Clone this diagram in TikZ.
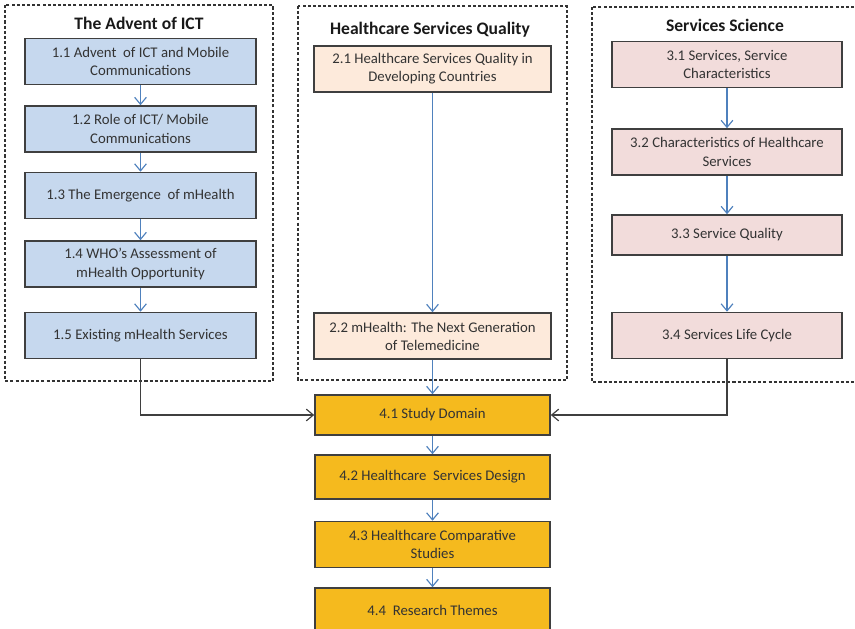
\documentclass[tikz,border=0pt]{standalone}
\usepackage{fontspec}
\setmainfont{Carlito}
\usetikzlibrary{arrows.meta}

\definecolor{ictblue}{HTML}{C6D8EE}
\definecolor{hsqpeach}{HTML}{FDEADB}
\definecolor{sspink}{HTML}{F2DCDB}
\definecolor{studyorange}{HTML}{F5BA1E}
\definecolor{flowblue}{HTML}{4F81BD}
\definecolor{edgegray}{HTML}{3F3F3F}

\begin{document}
\begin{tikzpicture}[>={Straight Barb[length=6pt,width=10pt]},
    topic/.style={draw=edgegray, line width=1.3pt, minimum height=1.38cm, align=center,
        font=\fontsize{12.6}{15.5}\selectfont, text=black!80},
    ictbox/.style={topic, fill=ictblue, minimum width=6.93cm},
    hsqbox/.style={topic, fill=hsqpeach, minimum width=7.11cm},
    ssbox/.style={topic, fill=sspink, minimum width=6.9cm},
    studybox/.style={topic, fill=studyorange, minimum width=7.05cm},
    frame/.style={draw=black!80, line width=1.1pt, dash pattern=on 2.6pt off 1.8pt},
    heading/.style={font=\bfseries\fontsize{15}{18}\selectfont, text=black!90},
    flow/.style={->, draw=flowblue, line width=1pt},
    link/.style={->, draw=edgegray, line width=1pt}]
    \useasboundingbox (0,0) rectangle (25.65,-18.87);

    \draw[frame] (0.15,-0.15) rectangle (8.19,-11.43);
    \draw[frame] (8.94,-0.18) rectangle (17.01,-11.40);
    \draw[frame] (17.76,-0.21) rectangle (25.75,-11.46);

    \node[heading] (t1) at (4.17,-0.69) {The Advent of ICT};
    \node[heading] (t2) at (12.90,-0.90) {Healthcare Services Quality};
    \node[heading] (t3) at (21.75,-0.75) {Services Science};

    \node[ictbox] (b11) at (4.215,-1.845) {1.1 Advent\ \ of ICT and Mobile\\ Communications};
    \node[ictbox] (b12) at (4.215,-3.87) {1.2 Role of ICT/ Mobile\\ Communications};
    \node[ictbox] (b13) at (4.215,-5.865) {1.3 The Emergence\ \ of mHealth};
    \node[ictbox] (b14) at (4.215,-7.92) {1.4 WHO’s Assessment of\\ mHealth Opportunity};
    \node[ictbox] (b15) at (4.215,-10.065) {1.5 Existing mHealth Services};

    \node[hsqbox] (b21) at (12.975,-2.07) {2.1 Healthcare Services Quality in\\ Developing Countries};
    \node[hsqbox] (b22) at (12.975,-10.08) {2.2 mHealth: The Next Generation\\ of Telemedicine};

    \node[ssbox] (b31) at (21.81,-1.935) {3.1 Services, Service\\ Characteristics};
    \node[ssbox] (b32) at (21.81,-4.56) {3.2 Characteristics of Healthcare\\ Services};
    \node[ssbox, minimum height=1.2cm] (b33) at (21.81,-7.05) {3.3 Service Quality};
    \node[ssbox] (b34) at (21.81,-10.065) {3.4 Services Life Cycle};

    \node[studybox, minimum height=1.2cm] (b41) at (12.975,-12.45) {4.1 Study Domain};
    \node[studybox, minimum height=1.32cm] (b42) at (12.975,-14.31) {4.2 Healthcare\ \ Services Design};
    \node[studybox] (b43) at (12.975,-16.335) {4.3 Healthcare Comparative\\ Studies};
    \node[studybox, minimum height=1.32cm] (b44) at (12.975,-18.30) {4.4\ \ Research Themes};

    \draw[flow] (b11) -- (b12);
    \draw[flow] (b12) -- (b13);
    \draw[flow] (b13) -- (b14);
    \draw[flow] (b14) -- (b15);
    \draw[flow] (b21) -- (b22);
    \draw[flow] (b31) -- (b32);
    \draw[flow] (b32) -- (b33);
    \draw[flow] (b33) -- (b34);
    \draw[flow] (b22) -- (b41);
    \draw[flow] (b41) -- (b42);
    \draw[flow] (b42) -- (b43);
    \draw[flow] (b43) -- (b44);

    \draw[link] (b15.south) |- (b41.west);
    \draw[link] (b34.south) |- (b41.east);
\end{tikzpicture}
\end{document}
